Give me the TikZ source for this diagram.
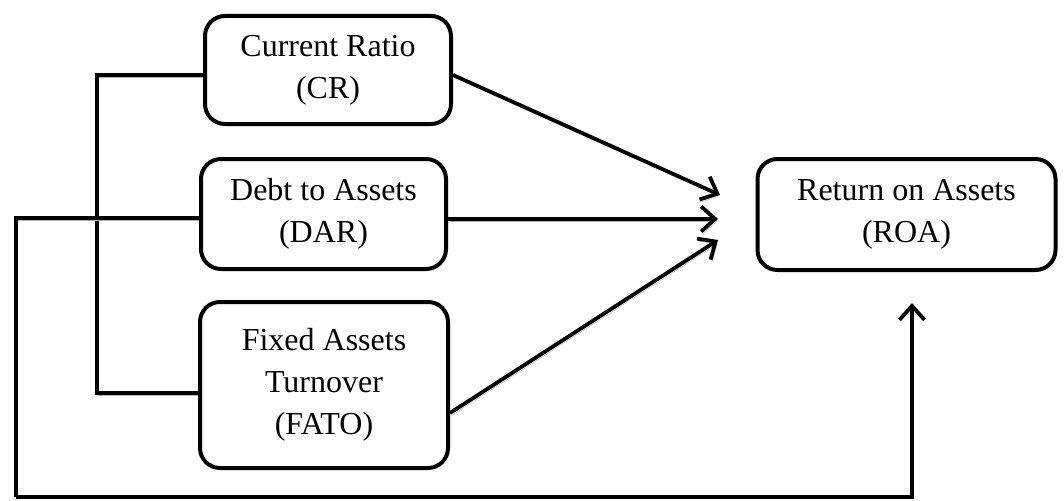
\documentclass[tikz,border=0pt]{standalone}
\usepackage{fontspec}
\setmainfont{Liberation Serif}
\usetikzlibrary{arrows.meta,calc}
\pgfdeclarelayer{bg}
\pgfsetlayers{bg,main}
\begin{document}
\begin{tikzpicture}[x=1pt,y=-1pt,
  box/.style={draw=black,line width=4pt,rounded corners=20pt,fill=white,
    align=center,inner sep=0pt,font=\fontsize{32}{42}\selectfont},
  link/.style={line width=3.8pt,draw=black,
    preaction={draw=gray!60,transform canvas={shift={(1.5pt,-2.5pt)}}}},
  plain/.style={line width=3.2pt,draw=black},
  tip/.style={-{Straight Barb[length=14pt,width=25pt,line width=3.8pt]}}
]
\useasboundingbox (0,0) rectangle (1064,500);
\node[box,minimum width=246pt,minimum height=108pt] (CR) at (328,70) {Current Ratio\\(CR)};
\node[box,minimum width=245pt,minimum height=110pt] (DAR) at (323.5,214) {Debt to Assets\\(DAR)};
\node[box,minimum width=248pt,minimum height=166pt] (FATO) at (324,385) {Fixed Assets\\Turnover\\(FATO)};
\node[box,minimum width=298pt,minimum height=111pt] (ROA) at (906.5,214.5) {Return on Assets\\(ROA)};
\coordinate (t1) at (720,195);
\coordinate (t2) at (718,219);
\coordinate (t3) at (718,240);
\coordinate (brT) at (97,75);
\coordinate (brB) at (97,393);
\coordinate (loopL) at (16,497);
\coordinate (roaTip) at (912,303);
\begin{pgfonlayer}{bg}
\draw[link,tip] ([yshift=-5pt]CR.east) -- (t1);
\draw[link,tip] ([yshift=-5pt]DAR.east) -- (t2);
\draw[link,tip] ([yshift=-28pt]FATO.east) -- (t3);
\draw[link] ([yshift=-5pt]CR.west) -- (brT) -- (brB) -- ([yshift=-8pt]FATO.west);
\draw[link] ([yshift=-4pt]DAR.west) -| (loopL);
\draw[plain,tip] (loopL) -| (roaTip);
\end{pgfonlayer}
\end{tikzpicture}
\end{document}
